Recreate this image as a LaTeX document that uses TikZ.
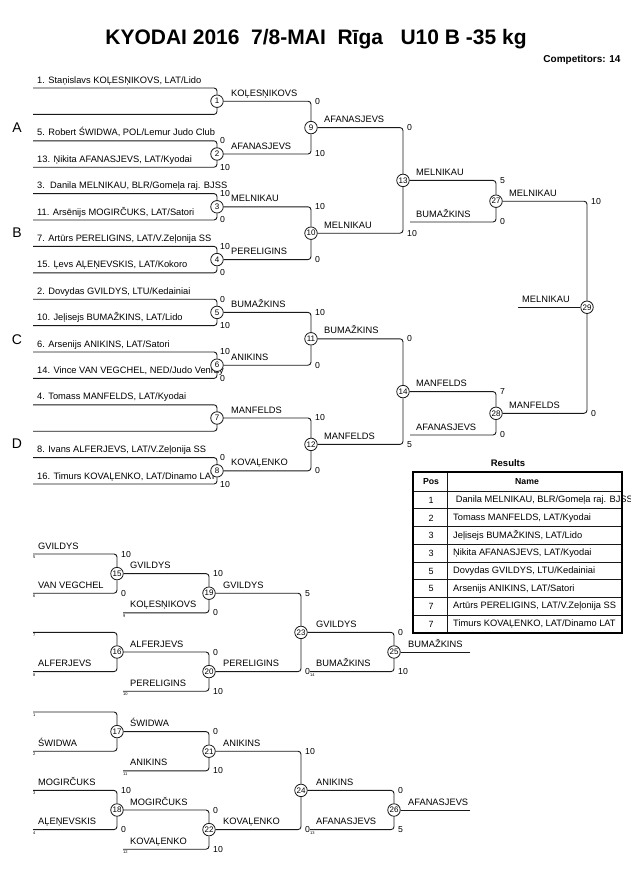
\documentclass[tikz,border=0pt]{standalone}
\usepackage{fontspec}
\setmainfont{Liberation Sans}
\usetikzlibrary{positioning,calc}
\tikzset{
  bout/.style={circle,draw=black!90,fill=white,line width=0.8pt,inner sep=0pt,minimum size=12.5pt,font=\fontsize{8}{8}\selectfont},
  wire/.style={draw=black!90,line width=0.9pt,rounded corners=3pt},
  who/.style={anchor=base west,inner sep=0pt,font=\fontsize{9.3}{10}\selectfont},
  pts/.style={anchor=west,inner sep=0pt,font=\fontsize{8.7}{9}\selectfont},
  frommatch/.style={anchor=north west,inner sep=0pt,font=\fontsize{4}{4}\selectfont},
  pool/.style={font=\fontsize{14}{14}\selectfont},
  cell/.style={anchor=west,inner sep=0pt,font=\fontsize{9.3}{10}\selectfont}
}
\begin{document}
\begin{tikzpicture}[x=1pt,y=-1pt]
\useasboundingbox (0,0) rectangle (630,891);
% heading
\node[font=\bfseries\fontsize{21}{22}\selectfont] (title) at (316,39) {KYODAI 2016\ \ 7/8-MAI\ \ Rīga\ \ \ U10 B -35 kg};
\node[anchor=east,font=\bfseries\fontsize{10}{11}\selectfont] (comp) at (624,60) {Competitors: 14};
\node[pool] (poolA) at (17,128) {A};
\node[pool] (poolB) at (17,233) {B};
\node[pool] (poolC) at (17,340) {C};
\node[pool] (poolD) at (17,444) {D};

% main draw
\foreach \k in {0,...,15} \coordinate (e\k) at (33,{88+26.4*\k});
\node[who] (t0) at ($(e0)+(4,-5)$) {1. Staņislavs KOĻESŅIKOVS, LAT/Lido};
\node[who] (t2) at ($(e2)+(4,-5)$) {5. Robert ŚWIDWA, POL/Lemur Judo Club};
\node[who] (t3) at ($(e3)+(4,-5)$) {13. Ņikita AFANASJEVS, LAT/Kyodai};
\node[who] (t4) at ($(e4)+(4,-5)$) {3.\ \ Danila MELNIKAU, BLR/Gomeļa raj. BJSS};
\node[who] (t5) at ($(e5)+(4,-5)$) {11. Arsēnijs MOGIRČUKS, LAT/Satori};
\node[who] (t6) at ($(e6)+(4,-5)$) {7. Artūrs PERELIGINS, LAT/V.Zeļonija SS};
\node[who] (t7) at ($(e7)+(4,-5)$) {15. Ļevs AĻEŅEVSKIS, LAT/Kokoro};
\node[who] (t8) at ($(e8)+(4,-5)$) {2. Dovydas GVILDYS, LTU/Kedainiai};
\node[who] (t9) at ($(e9)+(4,-5)$) {10. Jeļisejs BUMAŽKINS, LAT/Lido};
\node[who] (t10) at ($(e10)+(4,-5)$) {6. Arsenijs ANIKINS, LAT/Satori};
\node[who] (t11) at ($(e11)+(4,-5)$) {14. Vince VAN VEGCHEL, NED/Judo Venray};
\node[who] (t12) at ($(e12)+(4,-5)$) {4. Tomass MANFELDS, LAT/Kyodai};
\node[who] (t14) at ($(e14)+(4,-5)$) {8. Ivans ALFERJEVS, LAT/V.Zeļonija SS};
\node[who] (t15) at ($(e15)+(4,-5)$) {16. Timurs KOVAĻENKO, LAT/Dinamo LAT};

\foreach \m in {1,...,8} \node[bout] (m\m) at (217,{88+26.4*(2*\m-1.5)}) {\m};
\foreach \m in {9,...,12} \node[bout] (m\m) at (311,{88+26.4*(4*(\m-8)-2.5)}) {\m};
\node[bout] (m13) at (403,180.4) {13};
\node[bout] (m14) at (403,391.6) {14};
\node[bout] (m27) at (496,201.2) {27};
\node[bout] (m28) at (496,413.3) {28};
\node[bout] (m29) at (587,307.25) {29};
\coordinate (l27) at (410,222);
\coordinate (l28) at (410,435);
\coordinate (l29) at (518,307.25);

\foreach \m in {1,...,8} {
  \pgfmathtruncatemacro\up{2*\m-2}
  \pgfmathtruncatemacro\dn{2*\m-1}
  \draw[wire] (e\up) -| (m\m.north);
  \draw[wire] (e\dn) -| (m\m.south);
}
\foreach \m in {9,...,12} {
  \pgfmathtruncatemacro\up{2*\m-17}
  \pgfmathtruncatemacro\dn{2*\m-16}
  \draw[wire] (m\up.east) -| (m\m.north);
  \draw[wire] (m\dn.east) -| (m\m.south);
}
\draw[wire] (m9.east) -| (m13.north);
\draw[wire] (m10.east) -| (m13.south);
\draw[wire] (m11.east) -| (m14.north);
\draw[wire] (m12.east) -| (m14.south);
\draw[wire] (m13.east) -| (m27.north);
\draw[wire] (l27) -| (m27.south);
\draw[wire] (m14.east) -| (m28.north);
\draw[wire] (l28) -| (m28.south);
\draw[wire] (m27.east) -| (m29.north);
\draw[wire] (m28.east) -| (m29.south);
\draw[wire] (l29) -- (m29.west);

% winners
\node[who] (w1) at ($(m1)+(14,-5)$) {KOĻESŅIKOVS};
\node[who] (w2) at ($(m2)+(14,-5)$) {AFANASJEVS};
\node[who] (w3) at ($(m3)+(14,-5)$) {MELNIKAU};
\node[who] (w4) at ($(m4)+(14,-5)$) {PERELIGINS};
\node[who] (w5) at ($(m5)+(14,-5)$) {BUMAŽKINS};
\node[who] (w6) at ($(m6)+(14,-5)$) {ANIKINS};
\node[who] (w7) at ($(m7)+(14,-5)$) {MANFELDS};
\node[who] (w8) at ($(m8)+(14,-5)$) {KOVAĻENKO};
\node[who] (w9) at ($(m9)+(13,-5)$) {AFANASJEVS};
\node[who] (w10) at ($(m10)+(13,-5)$) {MELNIKAU};
\node[who] (w11) at ($(m11)+(13,-5)$) {BUMAŽKINS};
\node[who] (w12) at ($(m12)+(13,-5)$) {MANFELDS};
\node[who] (w13) at ($(m13)+(13,-5)$) {MELNIKAU};
\node[who] (w14) at ($(m14)+(13,-5)$) {MANFELDS};
\node[who] (b27) at ($(l27)+(6,-5)$) {BUMAŽKINS};
\node[who] (b28) at ($(l28)+(6,-5)$) {AFANASJEVS};
\node[who] (w27) at ($(m27)+(13,-5)$) {MELNIKAU};
\node[who] (w28) at ($(m28)+(13,-5)$) {MANFELDS};
\node[who] (b29) at ($(l29)+(4,-5)$) {MELNIKAU};

% scores
\node[pts] (s2a) at ($(m2|-e2)+(3,0)$) {0};
\node[pts] (s2b) at ($(m2|-e3)+(3,0)$) {10};
\node[pts] (s3a) at ($(m3|-e4)+(3,0)$) {10};
\node[pts] (s3b) at ($(m3|-e5)+(3,0)$) {0};
\node[pts] (s4a) at ($(m4|-e6)+(3,0)$) {10};
\node[pts] (s4b) at ($(m4|-e7)+(3,0)$) {0};
\node[pts] (s5a) at ($(m5|-e8)+(3,0)$) {0};
\node[pts] (s5b) at ($(m5|-e9)+(3,0)$) {10};
\node[pts] (s6a) at ($(m6|-e10)+(3,0)$) {10};
\node[pts] (s6b) at ($(m6|-e11)+(3,0)$) {0};
\node[pts] (s8a) at ($(m8|-e14)+(3,0)$) {0};
\node[pts] (s8b) at ($(m8|-e15)+(3,0)$) {10};
\node[pts] (s9a) at ($(m9|-m1)+(4,0)$) {0};
\node[pts] (s9b) at ($(m9|-m2)+(4,0)$) {10};
\node[pts] (s10a) at ($(m10|-m3)+(4,0)$) {10};
\node[pts] (s10b) at ($(m10|-m4)+(4,0)$) {0};
\node[pts] (s11a) at ($(m11|-m5)+(4,0)$) {10};
\node[pts] (s11b) at ($(m11|-m6)+(4,0)$) {0};
\node[pts] (s12a) at ($(m12|-m7)+(4,0)$) {10};
\node[pts] (s12b) at ($(m12|-m8)+(4,0)$) {0};
\node[pts] (s13a) at ($(m13|-m9)+(4,0)$) {0};
\node[pts] (s13b) at ($(m13|-m10)+(4,0)$) {10};
\node[pts] (s14a) at ($(m14|-m11)+(4,0)$) {0};
\node[pts] (s14b) at ($(m14|-m12)+(4,0)$) {5};
\node[pts] (s27a) at ($(m27|-m13)+(4,0)$) {5};
\node[pts] (s27b) at ($(m27|-l27)+(4,0)$) {0};
\node[pts] (s28a) at ($(m28|-m14)+(4,0)$) {7};
\node[pts] (s28b) at ($(m28|-l28)+(4,0)$) {0};
\node[pts] (s29a) at ($(m29|-m27)+(4,0)$) {10};
\node[pts] (s29b) at ($(m29|-m28)+(4,0)$) {0};

% repechage
\coordinate (r0) at (33,554);
\coordinate (r2) at (33,593.2);
\coordinate (r3) at (123,612.8);
\coordinate (r4) at (33,632.4);
\coordinate (r6) at (33,671.6);
\coordinate (r7) at (123,691.2);
\coordinate (l25) at (310,671.6);
\coordinate (x25) at (470,652);
\coordinate (q0) at (33,712);
\coordinate (q2) at (33,751.2);
\coordinate (q3) at (123,770.8);
\coordinate (q4) at (33,790.4);
\coordinate (q6) at (33,829.6);
\coordinate (q7) at (123,849.2);
\coordinate (l26) at (310,829.6);
\coordinate (x26) at (470,810);

\node[who] (u0) at ($(r0)+(5,-5)$) {GVILDYS};
\node[who] (u2) at ($(r2)+(5,-5)$) {VAN VEGCHEL};
\node[who] (u3) at ($(r3)+(7,-5)$) {KOĻESŅIKOVS};
\node[who] (u6) at ($(r6)+(5,-5)$) {ALFERJEVS};
\node[who] (u7) at ($(r7)+(7,-5)$) {PERELIGINS};
\node[who] (v2) at ($(q2)+(5,-5)$) {ŚWIDWA};
\node[who] (v3) at ($(q3)+(7,-5)$) {ANIKINS};
\node[who] (v4) at ($(q4)+(5,-5)$) {MOGIRČUKS};
\node[who] (v6) at ($(q6)+(5,-5)$) {AĻEŅEVSKIS};
\node[who] (v7) at ($(q7)+(7,-5)$) {KOVAĻENKO};
\node[who] (b25) at ($(l25)+(6,-5)$) {BUMAŽKINS};
\node[who] (b26) at ($(l26)+(6,-5)$) {AFANASJEVS};

\node[frommatch] (f0) at ($(r0)+(0,1.5)$) {5};
\node[frommatch] (f2) at ($(r2)+(0,1.5)$) {6};
\node[frommatch] (f3) at ($(r3)+(0,1.5)$) {9};
\node[frommatch] (f4) at ($(r4)+(0,1.5)$) {7};
\node[frommatch] (f6) at ($(r6)+(0,1.5)$) {8};
\node[frommatch] (f7) at ($(r7)+(0,1.5)$) {10};
\node[frommatch] (f25) at ($(l25)+(0,1.5)$) {14};
\node[frommatch] (g0) at ($(q0)+(0,1.5)$) {1};
\node[frommatch] (g2) at ($(q2)+(0,1.5)$) {2};
\node[frommatch] (g3) at ($(q3)+(0,1.5)$) {11};
\node[frommatch] (g4) at ($(q4)+(0,1.5)$) {3};
\node[frommatch] (g6) at ($(q6)+(0,1.5)$) {4};
\node[frommatch] (g7) at ($(q7)+(0,1.5)$) {12};
\node[frommatch] (g26) at ($(l26)+(0,1.5)$) {13};

\node[bout] (m15) at (117,573.6) {15};
\node[bout] (m16) at (117,652) {16};
\node[bout] (m19) at (209,593.2) {19};
\node[bout] (m20) at (209,671.6) {20};
\node[bout] (m23) at (301,632.4) {23};
\node[bout] (m25) at (394,652) {25};
\node[bout] (m17) at (117,731.6) {17};
\node[bout] (m18) at (117,810) {18};
\node[bout] (m21) at (209,751.2) {21};
\node[bout] (m22) at (209,829.6) {22};
\node[bout] (m24) at (301,790.4) {24};
\node[bout] (m26) at (394,810) {26};

\draw[wire] (r0) -| (m15.north);
\draw[wire] (r2) -| (m15.south);
\draw[wire] (m15.east) -| (m19.north);
\draw[wire] (r3) -| (m19.south);
\draw[wire] (r4) -| (m16.north);
\draw[wire] (r6) -| (m16.south);
\draw[wire] (m16.east) -| (m20.north);
\draw[wire] (r7) -| (m20.south);
\draw[wire] (m19.east) -| (m23.north);
\draw[wire] (m20.east) -| (m23.south);
\draw[wire] (m23.east) -| (m25.north);
\draw[wire] (l25) -| (m25.south);
\draw[wire] (m25.east) -- (x25);
\draw[wire] (q0) -| (m17.north);
\draw[wire] (q2) -| (m17.south);
\draw[wire] (m17.east) -| (m21.north);
\draw[wire] (q3) -| (m21.south);
\draw[wire] (q4) -| (m18.north);
\draw[wire] (q6) -| (m18.south);
\draw[wire] (m18.east) -| (m22.north);
\draw[wire] (q7) -| (m22.south);
\draw[wire] (m21.east) -| (m24.north);
\draw[wire] (m22.east) -| (m24.south);
\draw[wire] (m24.east) -| (m26.north);
\draw[wire] (l26) -| (m26.south);
\draw[wire] (m26.east) -- (x26);

\node[who] (w15) at ($(m15)+(13,-5)$) {GVILDYS};
\node[who] (w16) at ($(m16)+(13,-5)$) {ALFERJEVS};
\node[who] (w19) at ($(m19)+(14,-5)$) {GVILDYS};
\node[who] (w20) at ($(m20)+(14,-5)$) {PERELIGINS};
\node[who] (w23) at ($(m23)+(15,-5)$) {GVILDYS};
\node[who] (w25) at ($(m25)+(14,-5)$) {BUMAŽKINS};
\node[who] (w17) at ($(m17)+(13,-5)$) {ŚWIDWA};
\node[who] (w18) at ($(m18)+(13,-5)$) {MOGIRČUKS};
\node[who] (w21) at ($(m21)+(14,-5)$) {ANIKINS};
\node[who] (w22) at ($(m22)+(14,-5)$) {KOVAĻENKO};
\node[who] (w24) at ($(m24)+(15,-5)$) {ANIKINS};
\node[who] (w26) at ($(m26)+(14,-5)$) {AFANASJEVS};

\node[pts] (s15a) at ($(m15|-r0)+(4,0)$) {10};
\node[pts] (s15b) at ($(m15|-r2)+(4,0)$) {0};
\node[pts] (s19a) at ($(m19|-m15)+(4,0)$) {10};
\node[pts] (s19b) at ($(m19|-r3)+(4,0)$) {0};
\node[pts] (s20a) at ($(m20|-m16)+(4,0)$) {0};
\node[pts] (s20b) at ($(m20|-r7)+(4,0)$) {10};
\node[pts] (s23a) at ($(m23|-m19)+(4,0)$) {5};
\node[pts] (s23b) at ($(m23|-m20)+(4,0)$) {0};
\node[pts] (s25a) at ($(m25|-m23)+(4,0)$) {0};
\node[pts] (s25b) at ($(m25|-l25)+(4,0)$) {10};
\node[pts] (s21a) at ($(m21|-m17)+(4,0)$) {0};
\node[pts] (s21b) at ($(m21|-q3)+(4,0)$) {10};
\node[pts] (s18a) at ($(m18|-q4)+(4,0)$) {10};
\node[pts] (s18b) at ($(m18|-q6)+(4,0)$) {0};
\node[pts] (s22a) at ($(m22|-m18)+(4,0)$) {0};
\node[pts] (s22b) at ($(m22|-q7)+(4,0)$) {10};
\node[pts] (s24a) at ($(m24|-m21)+(4,0)$) {10};
\node[pts] (s24b) at ($(m24|-m22)+(4,0)$) {0};
\node[pts] (s26a) at ($(m26|-m24)+(4,0)$) {0};
\node[pts] (s26b) at ($(m26|-l26)+(4,0)$) {5};

% results
\node[font=\bfseries\fontsize{9.5}{10}\selectfont] (restitle) at (508,463) {Results};
\foreach \r in {1,...,8}
  \draw[black!90,line width=0.6pt] (413,{491+17.75*\r}) -- (622,{491+17.75*\r});
\draw[black!90,line width=0.6pt] (413,491) -- (622,491);
\draw[black!90,line width=0.6pt] (447,472) -- (447,633);
\node[font=\bfseries\fontsize{8.7}{9}\selectfont] (hpos) at (431,482) {Pos};
\node[font=\bfseries\fontsize{8.7}{9}\selectfont] (hname) at (527,482) {Name};
\node[font=\fontsize{9}{10}\selectfont] (pos1) at (431,500) {1};
\node[font=\fontsize{9}{10}\selectfont] (pos2) at (431,518) {2};
\node[font=\fontsize{9}{10}\selectfont] (pos3) at (431,535.5) {3};
\node[font=\fontsize{9}{10}\selectfont] (pos4) at (431,553.3) {3};
\node[font=\fontsize{9}{10}\selectfont] (pos5) at (431,571) {5};
\node[font=\fontsize{9}{10}\selectfont] (pos6) at (431,588.8) {5};
\node[font=\fontsize{9}{10}\selectfont] (pos7) at (431,606.5) {7};
\node[font=\fontsize{9}{10}\selectfont] (pos8) at (431,624.3) {7};
\node[cell] (name1) at (453,500) {\ Danila MELNIKAU, BLR/Gomeļa raj. BJSS};
\node[cell] (name2) at (453,518) {Tomass MANFELDS, LAT/Kyodai};
\node[cell] (name3) at (453,535.5) {Jeļisejs BUMAŽKINS, LAT/Lido};
\node[cell] (name4) at (453,553.3) {Ņikita AFANASJEVS, LAT/Kyodai};
\node[cell] (name5) at (453,571) {Dovydas GVILDYS, LTU/Kedainiai};
\node[cell] (name6) at (453,588.8) {Arsenijs ANIKINS, LAT/Satori};
\node[cell] (name7) at (453,606.5) {Artūrs PERELIGINS, LAT/V.Zeļonija SS};
\node[cell] (name8) at (453,624.3) {Timurs KOVAĻENKO, LAT/Dinamo LAT};
\draw[black,line width=1.3pt] (413,472) rectangle (622,633);
\end{tikzpicture}
\end{document}
